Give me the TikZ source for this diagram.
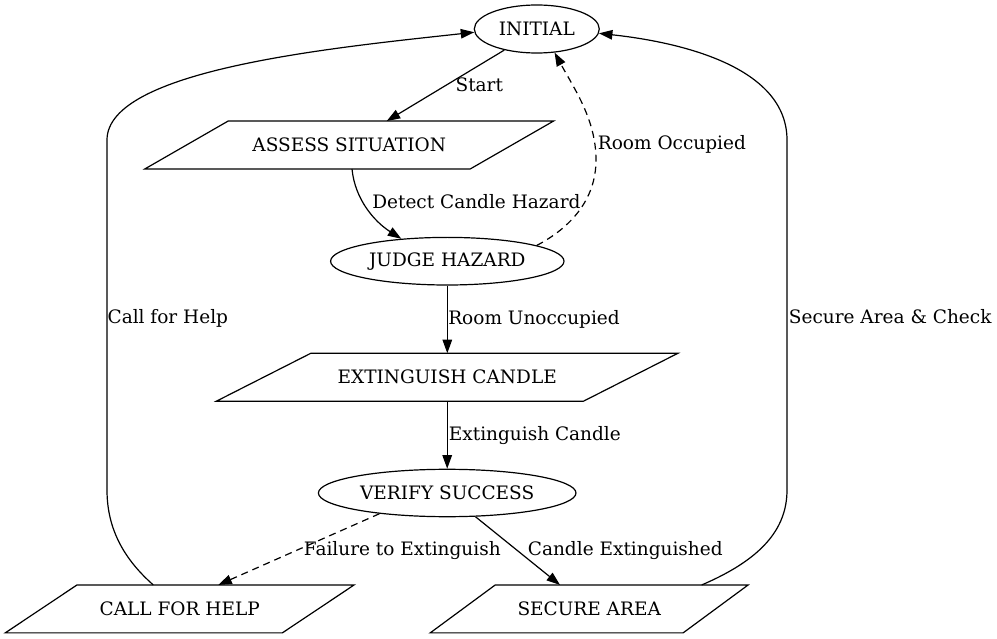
\documentclass[tikz,border=0pt]{standalone}
\usepackage{fontspec}
\setmainfont{DejaVu Serif}
\usetikzlibrary{shapes.geometric,arrows.meta}
\newcommand\drawpara[2]{\draw[shapeline] ([xshift=#2]#1.north west) -- ([xshift=#2]#1.north east) -- ([xshift=-#2]#1.south east) -- ([xshift=-#2]#1.south west) -- cycle;}
\begin{document}
\begin{tikzpicture}[x=1pt,y=-1pt,
  every node/.style={font=\fontsize{18.5}{22}\selectfont},
  ell/.style={draw, ellipse, line width=1.2pt, inner sep=0pt},
  parabox/.style={rectangle, inner sep=0pt, minimum height=47.5pt},
  shapeline/.style={line width=1.2pt, line join=miter},
  lbl/.style={anchor=base west, inner sep=0pt},
  arr/.style={line width=1.2pt, -{Triangle[length=13.5pt,width=9.5pt]}},
  dasharr/.style={arr, dash pattern=on 7pt off 5pt}]
\useasboundingbox (0,0) rectangle (997,639);

% nodes
\node[ell, minimum width=125pt, minimum height=48pt] (initial) at (536.8,29) {INITIAL};
\node[parabox, minimum width=325pt] (assess) at (349.2,145) {ASSESS SITUATION};
\drawpara{assess}{41.65}
\node[ell, minimum width=233.4pt, minimum height=47.6pt] (judge) at (447.3,261.2) {JUDGE HAZARD};
\node[parabox, minimum width=366.7pt] (ext) at (447.2,377.2) {EXTINGUISH CANDLE};
\drawpara{ext}{47.2}
\node[ell, minimum width=257.6pt, minimum height=47.4pt] (verify) at (447.2,493) {VERIFY SUCCESS};
\node[parabox, minimum width=276.7pt] (call) at (179.7,608.9) {CALL FOR HELP};
\drawpara{call}{35.85}
\node[parabox, minimum width=252.5pt] (secure) at (589.2,608.9) {SECURE AREA};
\drawpara{secure}{32.5}

% edges
\draw[arr] (initial.213) -- ([xshift=37.5pt]assess.north)
  node[lbl] at (455,91.5) {Start};
\draw[arr] ([xshift=2.8pt]assess.south) .. controls (355,200) and (375,222) .. (judge.154)
  node[lbl] at (371.7,208.3) {Detect Candle Hazard};
\draw[dasharr] (judge.10) .. controls (570,228) and (596,200) .. (596,160)
  .. controls (596,120) and (575,90) .. (initial.-53)
  node[lbl] at (597.3,150) {Room Occupied};
\draw[arr] (judge.south) -- (judge.south |- ext.north)
  node[lbl] at (447.7,324.3) {Room Unoccupied};
\draw[arr] (ext.south) -- (ext.south |- verify.north)
  node[lbl] at (448.3,440) {Extinguish Candle};
\draw[dasharr] (verify.197) -- ([xshift=38.6pt]call.north)
  node[lbl] at (303.3,555) {Failure to Extinguish};
\draw[arr] (verify.320) -- ([xshift=-29.2pt]secure.north)
  node[lbl] at (527.3,555) {Candle Extinguished};
\draw[arr] ([xshift=-26.4pt]call.north) .. controls (125,560) and (107,530) .. (107,490)
  -- (107,140) .. controls (107,70) and (330,48) .. (initial.183)
  node[lbl] at (107,324) {Call for Help};
\draw[arr] ([xshift=112.5pt]secure.north) .. controls (760,560) and (787,530) .. (787,490)
  -- (787,140) .. controls (787,60) and (660,40) .. (initial.-4)
  node[lbl] at (788.3,323.3) {Secure Area \& Check};
\end{tikzpicture}
\end{document}
